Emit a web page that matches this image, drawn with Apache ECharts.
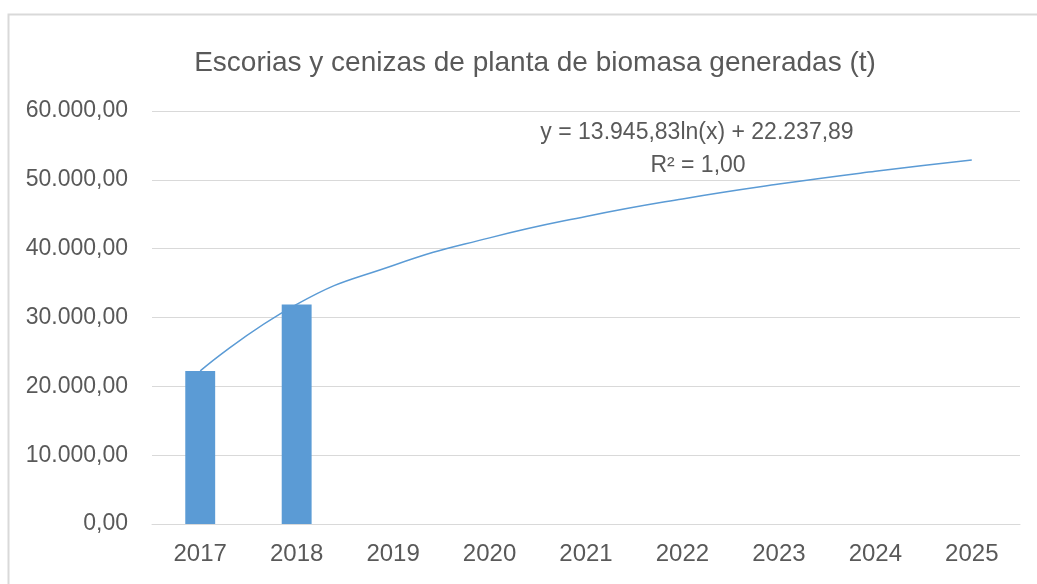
<!DOCTYPE html>
<html>
<head>
<meta charset="utf-8">
<script src="https://cdn.jsdelivr.net/npm/echarts@6/dist/echarts.min.js"></script>
<style>
  html, body { margin: 0; padding: 0; background: #fff; }
  #chart { width: 1037px; height: 584px; }
</style>
</head>
<body>
<div id="chart"></div>
<script>
// categorías (años)
const years = ['2017', '2018', '2019', '2020', '2021', '2022', '2023', '2024', '2025'];
// toneladas generadas (solo 2017 y 2018 con dato)
const generadas = [22238, 31904, null, null, null, null, null, null, null];
// línea de tendencia logarítmica
const tendencia = [22238, 31904, 37560, 41570, 44680, 47230, 49380, 51240, 52880];
const yTicks = [0, 10000, 20000, 30000, 40000, 50000, 60000];

const font = "'Liberation Sans', sans-serif";
const txtColor = '#595959';
const azul = '#5B9BD5';

const fmt = (v) => {
  const s = Math.round(v).toString().replace(/\B(?=(\d{3})+(?!\d))/g, '.');
  return s + ',00';
};

const chart = echarts.init(document.getElementById('chart'));

chart.setOption({
  animation: false,
  title: {
    text: 'Escorias y cenizas de planta de biomasa generadas (t)',
    left: 530,
    textAlign: 'center',
    top: 44,
    textStyle: { fontFamily: font, fontSize: 28, fontWeight: 'normal', color: txtColor },
  },
  graphic: [
    {
      type: 'rect',
      shape: { x: 8.5, y: 14.5, width: 1040, height: 600 },
      style: { fill: 'none', stroke: '#d9d9d9', lineWidth: 2 },
      silent: true,
    },
    {
      type: 'text',
      style: {
        text: 'y = 13.945,83ln(x) + 22.237,89',
        x: 697, y: 133, textAlign: 'center', textVerticalAlign: 'middle',
        font: '23px ' + font, fill: txtColor,
      },
    },
    {
      type: 'text',
      style: {
        text: 'R² = 1,00',
        x: 698, y: 166, textAlign: 'center', textVerticalAlign: 'middle',
        font: '23px ' + font, fill: txtColor,
      },
    },
  ],
  grid: { left: 152, right: 17, top: 111, bottom: 60 },
  xAxis: {
    type: 'category',
    data: years,
    axisLine: { lineStyle: { color: '#d9d9d9', width: 1 } },
    axisTick: { show: false },
    axisLabel: { fontFamily: font, fontSize: 24, color: txtColor, margin: 18 },
  },
  yAxis: {
    type: 'value',
    min: yTicks[0],
    max: yTicks[yTicks.length - 1],
    interval: 10000,
    axisLine: { show: false },
    axisTick: { show: false },
    splitLine: { lineStyle: { color: '#d9d9d9', width: 1 } },
    axisLabel: { fontFamily: font, fontSize: 23, color: txtColor, margin: 24, formatter: fmt },
  },
  series: [
    {
      name: 'Generadas',
      type: 'bar',
      data: generadas,
      barWidth: '31%',
      itemStyle: { color: azul },
    },
    {
      name: 'Tendencia',
      type: 'line',
      data: tendencia,
      smooth: 0.5,
      symbol: 'none',
      lineStyle: { color: azul, width: 1.5 },
      z: 3,
    },
  ],
});
</script>
</body>
</html>
